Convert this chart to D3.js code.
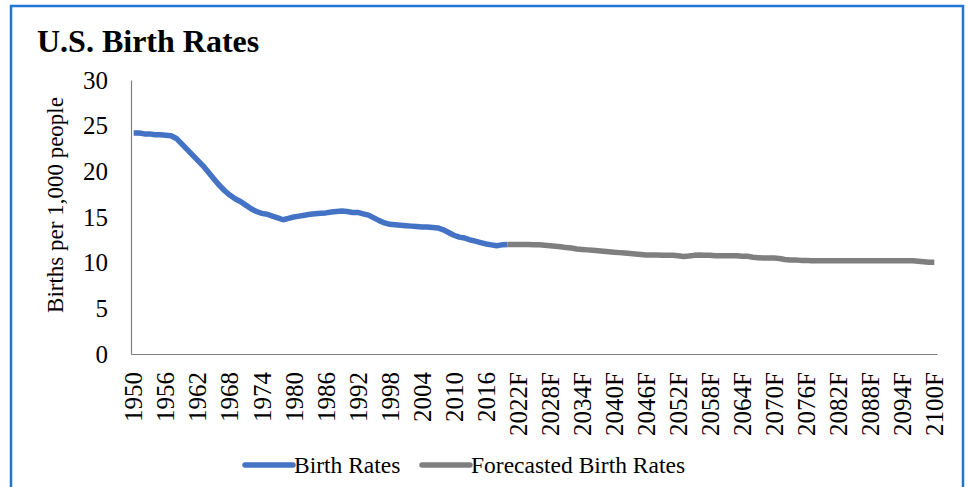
<!DOCTYPE html>
<html>
<head>
<meta charset="utf-8">
<script src="https://cdn.jsdelivr.net/npm/d3@7/dist/d3.min.js"></script>
<style>
  body { margin: 0; background: #fff; }
  svg { display: block; font-family: "Liberation Serif", "Times New Roman", serif; }
</style>
</head>
<body>
<svg width="968" height="487"></svg>
<script>
// actual values 1950 - 2020
var actualRates = [
  24.2, 24.2, 24.1, 24.1, 24.0, 24.0, 23.95, 23.9, 23.6, 23.0,
  22.4, 21.8, 21.2, 20.6, 19.9, 19.2, 18.5, 17.9, 17.4, 17.0,
  16.7, 16.3, 15.9, 15.6, 15.4, 15.3, 15.1, 14.9, 14.7, 14.85,
  15.0, 15.1, 15.2, 15.3, 15.35, 15.4, 15.45, 15.55, 15.6, 15.65,
  15.6, 15.5, 15.5, 15.35, 15.2, 14.9, 14.6, 14.35, 14.2, 14.15,
  14.1, 14.05, 14.0, 13.95, 13.9, 13.9, 13.85, 13.8, 13.6, 13.3,
  13.0, 12.8, 12.7, 12.5, 12.35, 12.2, 12.05, 11.95, 11.85, 11.95,
  12.0
];
// forecast 2020 - 2100 (2020 repeated so the two lines join)
var forecastRates = [
  12.0, 12.0, 12.0, 12.0, 12.0, 11.95, 11.95, 11.9, 11.85, 11.8,
  11.75, 11.65, 11.6, 11.5, 11.45, 11.4, 11.35, 11.3, 11.25, 11.2,
  11.15, 11.1, 11.05, 11.0, 10.95, 10.9, 10.85, 10.85, 10.85, 10.8,
  10.8, 10.8, 10.75, 10.68, 10.72, 10.8, 10.85, 10.8, 10.8, 10.75,
  10.75, 10.75, 10.75, 10.75, 10.7, 10.7, 10.6, 10.55, 10.5, 10.5,
  10.5, 10.45, 10.35, 10.3, 10.3, 10.25, 10.25, 10.2, 10.2, 10.2,
  10.2, 10.2, 10.2, 10.2, 10.2, 10.2, 10.2, 10.2, 10.2, 10.2,
  10.2, 10.2, 10.2, 10.2, 10.2, 10.2, 10.2, 10.15, 10.1, 10.05,
  10.05
];
var years = d3.range(1950, 2101);
var categories = years.map(function(y) { return y > 2020 ? y + "F" : String(y); });
var yTicks = [0, 5, 10, 15, 20, 25, 30];
var seriesNames = ["Birth Rates", "Forecasted Birth Rates"];
var seriesColors = ["#4472C4", "#7F7F7F"];

var svg = d3.select("svg");

// chart frame (bottom edge falls outside the picture)
svg.append("rect")
  .attr("x", 11).attr("y", 6)
  .attr("width", 952).attr("height", 500)
  .attr("fill", "none")
  .attr("stroke", "#2176D2")
  .attr("stroke-width", 2.5);

svg.append("text")
  .attr("x", 37).attr("y", 52)
  .style("font-size", "32px")
  .style("font-weight", "bold")
  .attr("fill", "#000")
  .text("U.S. Birth Rates");

var x = d3.scaleBand()
  .domain(categories)
  .range([131, 937]);

var y = d3.scaleLinear()
  .domain([0, 30])
  .range([354, 80]);

function cx(c) { return x(c) + x.bandwidth() / 2; }

// y axis
var yAxis = svg.append("g")
  .attr("transform", "translate(131,0)")
  .call(d3.axisLeft(y).tickValues(yTicks).tickSize(0).tickPadding(23));
yAxis.select(".domain").attr("stroke", "#7f7f7f").attr("stroke-width", 1.2);
yAxis.selectAll("text")
  .style("font-size", "25px")
  .style("font-family", "Liberation Serif")
  .attr("fill", "#000");

// x axis
var xAxis = svg.append("g")
  .attr("transform", "translate(0,354)")
  .call(d3.axisBottom(x)
    .tickValues(categories.filter(function(d, i) { return i % 6 === 0; }))
    .tickSize(0));
xAxis.select(".domain").attr("stroke", "#7f7f7f").attr("stroke-width", 1.2);
xAxis.selectAll("text")
  .style("font-size", "25px")
  .style("font-family", "Liberation Serif")
  .attr("fill", "#000")
  .attr("text-anchor", "end")
  .attr("transform", "rotate(-90)")
  .attr("x", -18)
  .attr("y", 0)
  .attr("dy", "0.35em");

svg.append("text")
  .attr("transform", "translate(55,205) rotate(-90)")
  .attr("text-anchor", "middle")
  .attr("dy", "0.35em")
  .style("font-size", "23px")
  .attr("fill", "#000")
  .text("Births per 1,000 people");

var line = d3.line()
  .x(function(d) { return cx(d.cat); })
  .y(function(d) { return y(d.value); });

var actualData = actualRates.map(function(v, i) { return { cat: categories[i], value: v }; });
var forecastData = forecastRates.map(function(v, i) { return { cat: categories[i + 70], value: v }; });

svg.append("path")
  .datum(actualData)
  .attr("d", line)
  .attr("fill", "none")
  .attr("stroke", seriesColors[0])
  .attr("stroke-width", 5.5)
  .attr("stroke-linejoin", "round");

svg.append("path")
  .datum(forecastData)
  .attr("d", line)
  .attr("fill", "none")
  .attr("stroke", seriesColors[1])
  .attr("stroke-width", 5.5)
  .attr("stroke-linejoin", "round");

// legend
var legendX = [245, 422];
var legend = svg.selectAll(".legend")
  .data(seriesNames)
  .enter().append("g")
  .attr("class", "legend")
  .attr("transform", function(d, i) { return "translate(" + legendX[i] + ",465)"; });

legend.append("line")
  .attr("x1", 0).attr("x2", 48)
  .attr("stroke", function(d, i) { return seriesColors[i]; })
  .attr("stroke-width", 5.5)
  .attr("stroke-linecap", "round");

legend.append("text")
  .attr("x", 49)
  .attr("y", 8)
  .style("font-size", "23.5px")
  .attr("fill", "#000")
  .text(function(d) { return d; });
</script>
</body>
</html>
